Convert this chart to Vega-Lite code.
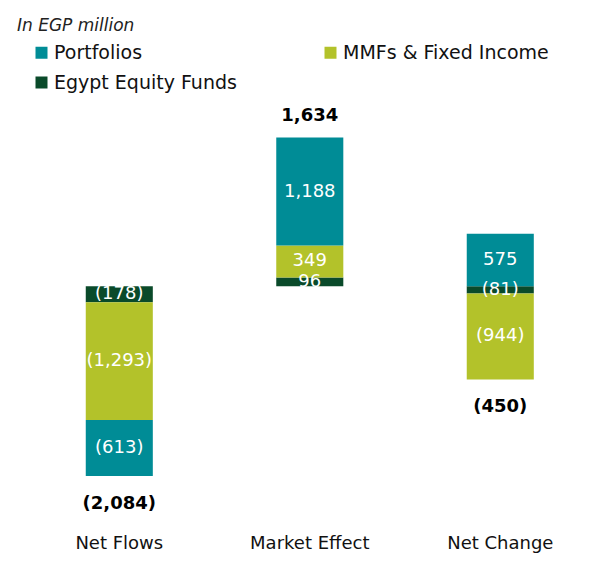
{
  "$schema": "https://vega.github.io/schema/vega-lite/v6.json",
  "width": 581,
  "height": 428,
  "autosize": "none",
  "padding": {"left": 25, "top": 104, "right": 0, "bottom": 30},
  "background": "white",
  "config": {
    "view": {"stroke": null},
    "font": "DejaVu Sans"
  },
  "title": {
    "text": "In EGP million",
    "anchor": "start",
    "frame": "group",
    "dx": -8,
    "offset": -5,
    "fontSize": 17,
    "fontStyle": "italic",
    "fontWeight": "normal",
    "font": "DejaVu Sans",
    "color": "#222222",
    "baseline": "alphabetic"
  },
  "datasets": {
    "parts": [
      {"category": "Net Flows", "series": "Egypt Equity Funds", "order": 1, "value": -178, "label": "(178)"},
      {"category": "Net Flows", "series": "MMFs & Fixed Income", "order": 2, "value": -1293, "label": "(1,293)"},
      {"category": "Net Flows", "series": "Portfolios", "order": 3, "value": -613, "label": "(613)"},
      {"category": "Market Effect", "series": "Egypt Equity Funds", "order": 1, "value": 96, "label": "96"},
      {"category": "Market Effect", "series": "MMFs & Fixed Income", "order": 2, "value": 349, "label": "349"},
      {"category": "Market Effect", "series": "Portfolios", "order": 3, "value": 1188, "label": "1,188"},
      {"category": "Net Change", "series": "Egypt Equity Funds", "order": 1, "value": -81, "label": "(81)"},
      {"category": "Net Change", "series": "MMFs & Fixed Income", "order": 2, "value": -944, "label": "(944)"},
      {"category": "Net Change", "series": "Portfolios", "order": 3, "value": 575, "label": "575"}
    ],
    "totals": [
      {"category": "Net Flows", "total": -2084, "label": "(2,084)"},
      {"category": "Market Effect", "total": 1634, "label": "1,634"},
      {"category": "Net Change", "total": -450, "label": "(450)"}
    ]
  },
  "encoding": {
    "x": {
      "field": "category",
      "type": "nominal",
      "sort": ["Net Flows", "Market Effect", "Net Change"],
      "scale": {"paddingInner": 0.648, "paddingOuter": 0.349, "align": 0.457},
      "axis": {
        "title": null,
        "domain": false,
        "ticks": false,
        "labelAngle": 0,
        "labelFontSize": 18,
        "labelColor": "#111111",
        "labelPadding": 2,
        "labelBaseline": "top",
        "labelFont": "DejaVu Sans"
      }
    }
  },
  "layer": [
    {
      "data": {"name": "parts"},
      "transform": [
        {"stack": "value", "groupby": ["category"], "sort": [{"field": "order", "order": "ascending"}], "as": ["y0", "y1"]}
      ],
      "mark": {"type": "bar"},
      "encoding": {
        "y": {"field": "y0", "type": "quantitative", "scale": {"domain": [-2700, 2000], "nice": false, "zero": false}, "axis": null},
        "y2": {"field": "y1"},
        "color": {
          "field": "series",
          "type": "nominal",
          "scale": {
            "domain": ["Portfolios", "MMFs & Fixed Income", "Egypt Equity Funds"],
            "range": ["#008C96", "#B3C22A", "#0A4A2A"]
          },
          "legend": {
            "title": null,
            "orient": "none",
            "direction": "horizontal",
            "legendX": 7,
            "legendY": -61,
            "columns": 2,
            "columnPadding": 84,
            "rowPadding": 10,
            "symbolType": "square",
            "symbolSize": 144,
            "symbolStrokeWidth": 0,
            "symbolOpacity": 1,
            "labelFontSize": 19,
            "labelFont": "DejaVu Sans",
            "labelColor": "#111111",
            "labelOffset": 3,
            "labelLimit": 400,
            "padding": 0
          }
        }
      }
    },
    {
      "data": {"name": "parts"},
      "transform": [
        {"stack": "value", "groupby": ["category"], "sort": [{"field": "order", "order": "ascending"}], "as": ["y0", "y1"]},
        {"calculate": "(datum.y0 + datum.y1) / 2", "as": "mid"}
      ],
      "mark": {"type": "text", "color": "white", "fontSize": 18, "baseline": "middle", "align": "center"},
      "encoding": {
        "y": {"field": "mid", "type": "quantitative"},
        "text": {"field": "label"}
      }
    },
    {
      "data": {"name": "parts"},
      "transform": [
        {"calculate": "max(datum.value, 0)", "as": "pos"},
        {"aggregate": [{"op": "sum", "field": "value", "as": "total"}, {"op": "sum", "field": "pos", "as": "posext"}], "groupby": ["category"]},
        {"filter": "datum.total > 0"},
        {"lookup": "category", "from": {"data": {"name": "totals"}, "key": "category", "fields": ["label"]}}
      ],
      "mark": {"type": "text", "color": "#000000", "fontSize": 18, "fontWeight": "bold", "baseline": "bottom", "dy": -12},
      "encoding": {
        "y": {"field": "posext", "type": "quantitative"},
        "text": {"field": "label"}
      }
    },
    {
      "data": {"name": "parts"},
      "transform": [
        {"calculate": "min(datum.value, 0)", "as": "neg"},
        {"aggregate": [{"op": "sum", "field": "value", "as": "total"}, {"op": "sum", "field": "neg", "as": "negext"}], "groupby": ["category"]},
        {"filter": "datum.total < 0"},
        {"lookup": "category", "from": {"data": {"name": "totals"}, "key": "category", "fields": ["label"]}}
      ],
      "mark": {"type": "text", "color": "#000000", "fontSize": 18, "fontWeight": "bold", "baseline": "top", "dy": 19},
      "encoding": {
        "y": {"field": "negext", "type": "quantitative"},
        "text": {"field": "label"}
      }
    },
    {
      "mark": {"type": "rule", "color": "#000000", "strokeWidth": 1},
      "encoding": {"y": {"datum": 0, "type": "quantitative"}}
    }
  ]
}
